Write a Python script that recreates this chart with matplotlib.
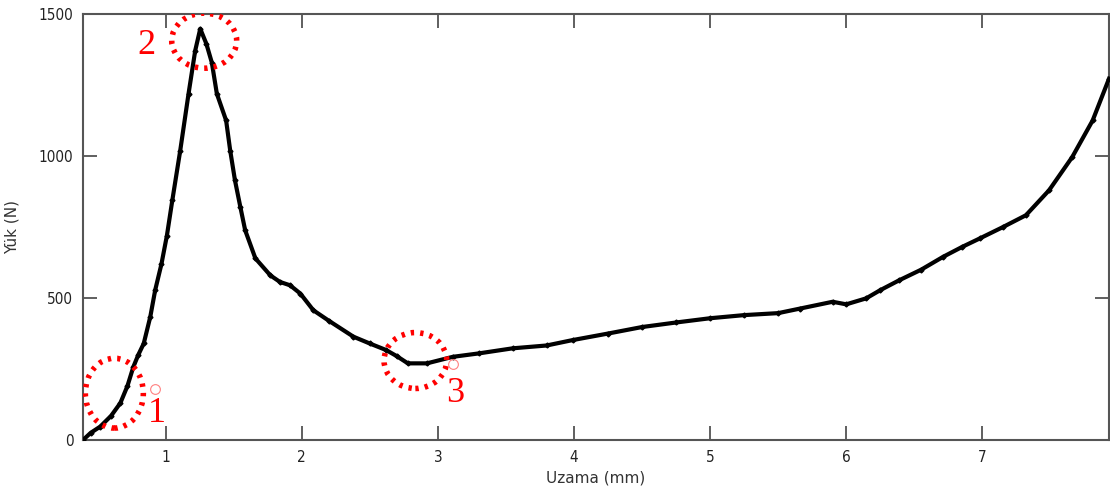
import matplotlib.pyplot as plt
from matplotlib.patches import Ellipse

uzama = [0.394, 0.45, 0.52, 0.60, 0.668, 0.72, 0.764, 0.80, 0.84, 0.888, 0.924, 0.97, 1.01,
         1.05, 1.108, 1.169, 1.218, 1.255, 1.30, 1.34, 1.377, 1.445, 1.475, 1.51, 1.55,
         1.585, 1.66, 1.77, 1.84, 1.915, 1.99, 2.086, 2.2, 2.38, 2.5, 2.62, 2.70, 2.78,
         2.92, 3.11, 3.3, 3.55, 3.8, 3.99, 4.25, 4.5, 4.75, 5.0, 5.25, 5.5, 5.66, 5.9,
         6.0, 6.146, 6.25, 6.39, 6.55, 6.71, 6.85, 6.98, 7.15, 7.32, 7.49, 7.66, 7.81, 7.93]
yuk = [0, 25, 47, 85, 130, 190, 258, 300, 340, 434, 528, 620, 720,
       845, 1020, 1220, 1372, 1449, 1396, 1330, 1220, 1126, 1020, 915, 820,
       739, 640, 580, 557, 545, 516, 457, 420, 364, 340, 317, 295, 270,
       270, 293, 305, 323, 333, 352, 375, 398, 414, 429, 440, 447, 463, 487,
       478, 499, 528, 563, 600, 645, 680, 710, 750, 792, 880, 997, 1126, 1273]

# circled regions: label, centre, width, height, label position
bolge_no = ['1', '2', '3']
bolge_x = [0.624, 1.284, 2.835]
bolge_y = [165, 1407, 280]
bolge_w = [0.426, 0.477, 0.46]
bolge_h = [246, 194, 197]
etiket_x = [0.94, 0.86, 3.13]
etiket_y = [95, 1390, 165]

fig = plt.figure(figsize=(11.1, 4.98), dpi=100)
ax = fig.add_axes([0.0748, 0.1165, 0.9243, 0.8548])

ax.plot(uzama, yuk, color='black', lw=3, marker='D', ms=2.5, zorder=3)

for i in range(len(bolge_no)):
    e = Ellipse((bolge_x[i], bolge_y[i]), bolge_w[i], bolge_h[i], fill=False,
                edgecolor='red', lw=4, linestyle=(0, (0.6, 1.1)), zorder=4)
    ax.add_patch(e)
    ax.text(etiket_x[i], etiket_y[i], bolge_no[i], color='red', fontsize=26,
            family='Liberation Serif', ha='center', va='center', zorder=5)

# small open red markers beside labels 1 and 3
ax.plot([0.92, 3.11], [178, 268], linestyle='none', marker='o', ms=7,
        mfc='none', mec='#ff8080', mew=0.8, zorder=5)

ax.set_xlim(0.394, 7.93)
ax.set_ylim(0, 1500)
ax.set_xticks(range(1, 8))
ax.set_yticks([0, 500, 1000, 1500])
ax.tick_params(direction='in', length=10, width=1.2, top=True, right=True,
               color='#444444', labelsize=11, labelcolor='#222222', pad=7)
for lab in ax.get_xticklabels() + ax.get_yticklabels():
    lab.set_fontstretch('condensed')
for s in ax.spines.values():
    s.set_color('#555555')
    s.set_linewidth(1.5)

ax.set_xlabel('Uzama (mm)', fontsize=11, color='#333333', labelpad=4)
ax.set_ylabel('Yük (N)', fontsize=11, color='#333333', labelpad=14)

fig.savefig('out.png', dpi=100)
